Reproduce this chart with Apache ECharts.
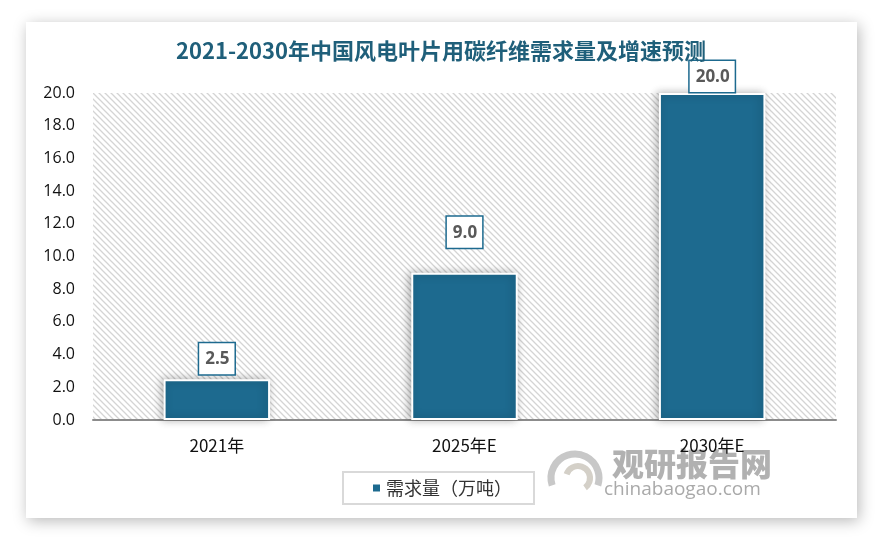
<!DOCTYPE html>
<html><head><meta charset="utf-8">
<script src="https://cdn.jsdelivr.net/npm/echarts@6/dist/echarts.min.js"></script>
<style>html,body{margin:0;padding:0;background:#fff}#c{width:882px;height:542px}</style>
</head><body><div id="c"></div>
<script>
const categories = ['2021年', '2025年E', '2030年E'];
const demand = [2.5, 9.0, 20.0];
const seriesName = '需求量（万吨）';
const titleText = '2021-2030年中国风电叶片用碳纤维需求量及增速预测';

const pc = document.createElement('canvas');
pc.width = 6; pc.height = 6;
const g = pc.getContext('2d');
g.fillStyle = '#ffffff'; g.fillRect(0,0,6,6);
g.strokeStyle = '#d4d4d4'; g.lineWidth = 1.3;
g.beginPath();
g.moveTo(-1,-1); g.lineTo(7,7);
g.moveTo(-4,2); g.lineTo(4,10);
g.moveTo(2,-4); g.lineTo(10,4);
g.stroke();

const labelDist = [5, 25, 1];
const chart = echarts.init(document.getElementById('c'), null, {renderer:'canvas'});
chart.setOption({
  animation:false,
  backgroundColor:'#ffffff',
  graphic:[
    {type:'rect', z:-10, shape:{x:26,y:22,width:831,height:496},
     style:{fill:'#fff', shadowBlur:14, shadowColor:'rgba(0,0,0,0.28)', shadowOffsetX:2, shadowOffsetY:3}},
    {type:'text', z:-5, left:612, top:448, style:{text:'观研报告网', font:'900 32px "Noto Sans CJK SC"', fill:'#a3a3a3', opacity:0.85}},
    {type:'text', z:-5, left:604, top:480, style:{text:'chinabaogao.com', font:'19px "Open Sans"', fill:'#9a9a9a', opacity:0.85}},
    {type:'arc', z:-5, shape:{cx:575,cy:478,r:24,startAngle:Math.PI*0.9,endAngle:Math.PI*2.1}, style:{stroke:'#c8c8c8', lineWidth:7, fill:null}},
    {type:'arc', z:-5, shape:{cx:578,cy:478,r:12,startAngle:Math.PI*1.1,endAngle:Math.PI*2.3}, style:{stroke:'#d4d0c8', lineWidth:6, fill:null}}
  ],
  title:{text:titleText, left:'center', top:35,
    textStyle:{fontFamily:'"Noto Sans CJK SC"', fontWeight:'bold', fontSize:22, color:'#1F5F7A'}},
  legend:{show:true, left:343, top:472, width:195, height:36,
    padding:[7,22,7,28], borderColor:'#d9d9d9', borderWidth:2,
    itemWidth:9, itemHeight:9, icon:'rect', itemGap:8,
    textStyle:{fontFamily:'"Noto Sans CJK SC"', fontSize:18, color:'#333'}},
  grid:{left:93, right:46, top:93, bottom:122, show:true, borderWidth:0,
    backgroundColor:{image:pc, repeat:'repeat'}},
  xAxis:{type:'category', data:categories,
    axisLine:{lineStyle:{color:'#8c8c8c', width:2}},
    axisTick:{show:false},
    axisLabel:{margin:17, fontFamily:'"Noto Sans CJK SC"', fontSize:17, color:'#111'}},
  yAxis:{type:'value', min:0, max:20, interval:2,
    axisLine:{show:false}, axisTick:{show:false}, splitLine:{show:false},
    axisLabel:{margin:18, fontFamily:'"Open Sans"', fontSize:16, color:'#111',
      formatter:v=>v.toFixed(1)}},
  series:[{name:seriesName, type:'bar', barWidth:'43%',
    itemStyle:{color:'#1D6A8F', borderColor:'#ffffff', borderWidth:2,
      shadowBlur:8, shadowColor:'rgba(0,0,0,0.3)', shadowOffsetX:-2},
    data:demand.map((v,i)=>({value:v, label:{distance:labelDist[i]}})),
    label:{show:true, position:'top', formatter:p=>p.value.toFixed(1),
      backgroundColor:'#fff', borderColor:'#1D6A8F', borderWidth:1.5,
      padding:[8,5,6,6], fontFamily:'"Open Sans"', fontWeight:'bold', fontSize:17, color:'#595959'}
  }]
});
</script></body></html>
